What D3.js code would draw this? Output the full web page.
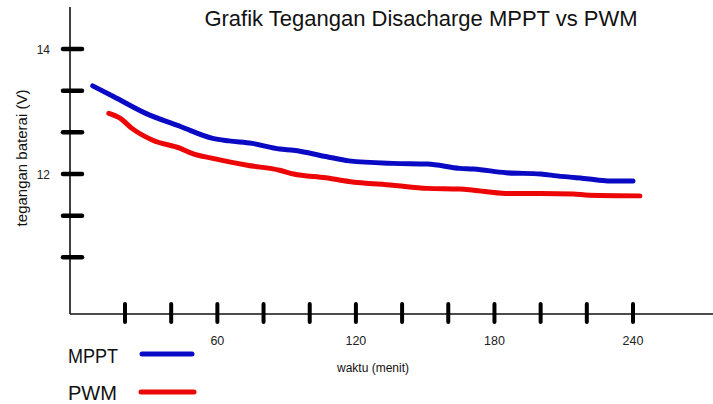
<!DOCTYPE html>
<html><head><meta charset="utf-8">
<script src="https://cdn.jsdelivr.net/npm/d3@7"></script>
<style>
html,body{margin:0;padding:0;background:#fff;}
svg{display:block;font-family:"Liberation Sans",Arial,sans-serif;}
</style></head>
<body>
<svg id="c" width="713" height="404"></svg>
<script>
const title = "Grafik Tegangan Disacharge MPPT vs PWM";
const xTitle = "waktu (menit)";
const yTitle = "tegangan baterai (V)";
const seriesNames = ["MPPT", "PWM"];
const seriesColors = ["#0a0ac4", "#ec0606"];

const mpptTime = [6, 15, 29, 44, 58, 65, 75, 87, 93, 107, 117, 136, 151, 165, 171, 185, 200, 207, 221, 229, 240];
const mpptV = [13.41, 13.24, 12.97, 12.76, 12.57, 12.53, 12.49, 12.40, 12.38, 12.28, 12.21, 12.17, 12.16, 12.09, 12.08, 12.02, 12.00, 11.97, 11.92, 11.89, 11.89];
const pwmTime = [13, 18, 23, 32, 44, 49, 58, 73, 87, 93, 107, 117, 136, 151, 165, 171, 185, 200, 214, 221, 243];
const pwmV = [12.97, 12.89, 12.73, 12.54, 12.41, 12.33, 12.25, 12.14, 12.06, 12.00, 11.94, 11.88, 11.82, 11.77, 11.76, 11.74, 11.69, 11.69, 11.68, 11.66, 11.65];

const xTicks = [20, 40, 60, 80, 100, 120, 140, 160, 180, 200, 220, 240];
const xTickLabels = ["", "", "60", "", "", "120", "", "", "180", "", "", "240"];
const yTicks = [14, 40/3, 38/3, 12, 34/3, 32/3];
const yTickLabels = ["14", "", "", "12", "", ""];

const svg = d3.select("#c");
const x = d3.scaleLinear().domain([20, 240]).range([125, 633]);
const y = d3.scaleLinear().domain([12, 14]).range([174, 49]);
const axisX = 70, axisY = 314;

// axis lines
svg.append("line").attr("x1", axisX).attr("x2", axisX).attr("y1", 7).attr("y2", axisY)
  .attr("stroke", "#111").attr("stroke-width", 1.6);
svg.append("line").attr("x1", axisX).attr("x2", 713).attr("y1", axisY).attr("y2", axisY)
  .attr("stroke", "#111").attr("stroke-width", 1.6);

// y ticks
svg.selectAll(".yt").data(yTicks).enter().append("line")
  .attr("x1", 63).attr("x2", 82)
  .attr("y1", d => y(d)).attr("y2", d => y(d))
  .attr("stroke", "#000").attr("stroke-width", 4.5).attr("stroke-linecap", "round");
svg.selectAll(".ytl").data(yTicks).enter().append("text")
  .attr("x", 50).attr("y", d => y(d) + 4.5)
  .attr("text-anchor", "end").attr("font-size", 12).attr("fill", "#222")
  .text((d, i) => yTickLabels[i]);

// x ticks
svg.selectAll(".xt").data(xTicks).enter().append("line")
  .attr("x1", d => x(d)).attr("x2", d => x(d))
  .attr("y1", 304).attr("y2", 322)
  .attr("stroke", "#000").attr("stroke-width", 4).attr("stroke-linecap", "round");
svg.selectAll(".xtl").data(xTicks).enter().append("text")
  .attr("x", d => x(d)).attr("y", 345)
  .attr("text-anchor", "middle").attr("font-size", 12.5).attr("fill", "#222")
  .text((d, i) => xTickLabels[i]);

// titles
svg.append("text").attr("x", 421).attr("y", 26).attr("text-anchor", "middle")
  .attr("font-size", 22).attr("fill", "#111").text(title);
svg.append("text").attr("x", 373).attr("y", 372).attr("text-anchor", "middle")
  .attr("font-size", 12).attr("fill", "#111").text(xTitle);
svg.append("text").attr("transform", "translate(27,158) rotate(-90)").attr("text-anchor", "middle")
  .attr("font-size", 15).attr("fill", "#111").text(yTitle);

// lines
const line = d3.line().x(d => x(d[0])).y(d => y(d[1])).curve(d3.curveMonotoneX);
const series = [d3.zip(mpptTime, mpptV), d3.zip(pwmTime, pwmV)];
series.forEach((s, i) => {
  svg.append("path").datum(s).attr("d", line).attr("fill", "none")
    .attr("stroke", seriesColors[i]).attr("stroke-width", 5)
    .attr("stroke-linecap", "round").attr("stroke-linejoin", "round");
});

// legend
const legY = [363, 400];
const legLineY = [354, 392];
const legLen = [50, 49];
seriesNames.forEach((n, i) => {
  svg.append("text").attr("x", 68).attr("y", legY[i]).attr("font-size", 21)
    .attr("fill", "#111").attr("textLength", legLen[i]).attr("lengthAdjust", "spacingAndGlyphs").text(n);
  svg.append("line").attr("x1", 142 - (i ? 1 : 0)).attr("x2", 192 + (i ? 2 : 0))
    .attr("y1", legLineY[i]).attr("y2", legLineY[i])
    .attr("stroke", seriesColors[i]).attr("stroke-width", 5).attr("stroke-linecap", "round");
});
</script>
</body></html>
